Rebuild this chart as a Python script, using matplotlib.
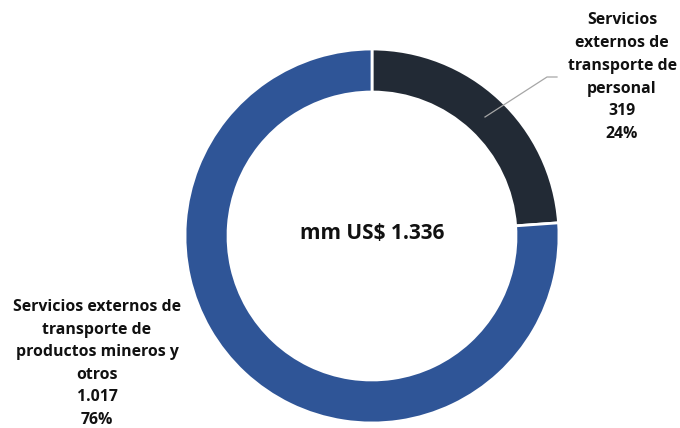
import matplotlib
matplotlib.use("Agg")
import matplotlib.pyplot as plt

categories = ["Servicios externos de\ntransporte de\npersonal",
              "Servicios externos de\ntransporte de\nproductos mineros y\notros"]
values = [319, 1017]
value_labels = ["319", "1.017"]
pct_labels = ["24%", "76%"]
total_label = "mm US$ 1.336"
colors = ["#222A35", "#2F5597"]

W, H = 680, 428
fig = plt.figure(figsize=(W/100, H/100), dpi=100)
ax = fig.add_axes([0, 0, 1, 1])
ax.set_xlim(0, W)
ax.set_ylim(H, 0)
ax.set_aspect('equal')
ax.axis('off')

cx, cy, R = 372, 236, 187
pax = fig.add_axes([(cx - R)/W, (H - cy - R)/H, 2*R/W, 2*R/H])
pax.pie(values, colors=colors, startangle=90, counterclock=False,
        wedgeprops=dict(width=0.23, edgecolor='white', linewidth=2))
pax.set_xlim(-1, 1)
pax.set_ylim(-1, 1)
pax.set_aspect('equal')
pax.axis('off')

fam = ['Open Sans', 'DejaVu Sans']
fs = 11.4
ax.text(cx, 233, total_label, ha='center', va='center', fontsize=15,
        fontweight='bold', color='#111111', family=fam, zorder=5)

lbl1 = "Servicios\nexternos de\ntransporte de\npersonal\n" + value_labels[0] + "\n" + pct_labels[0]
ax.text(622, 12, lbl1, ha='center', va='top', fontsize=fs, fontweight='bold',
        color='#111111', family=fam, linespacing=1.57)
lbl2 = categories[1] + "\n" + value_labels[1] + "\n" + pct_labels[1]
ax.text(97, 299, lbl2, ha='center', va='top', fontsize=fs, fontweight='bold',
        color='#111111', family=fam, linespacing=1.55)

ax.plot([485, 547, 557], [117, 77, 77], color='#A6A6A6', lw=0.9, zorder=6)
ax.set_zorder(2)
ax.patch.set_alpha(0)

fig.savefig("out.png", dpi=100)
